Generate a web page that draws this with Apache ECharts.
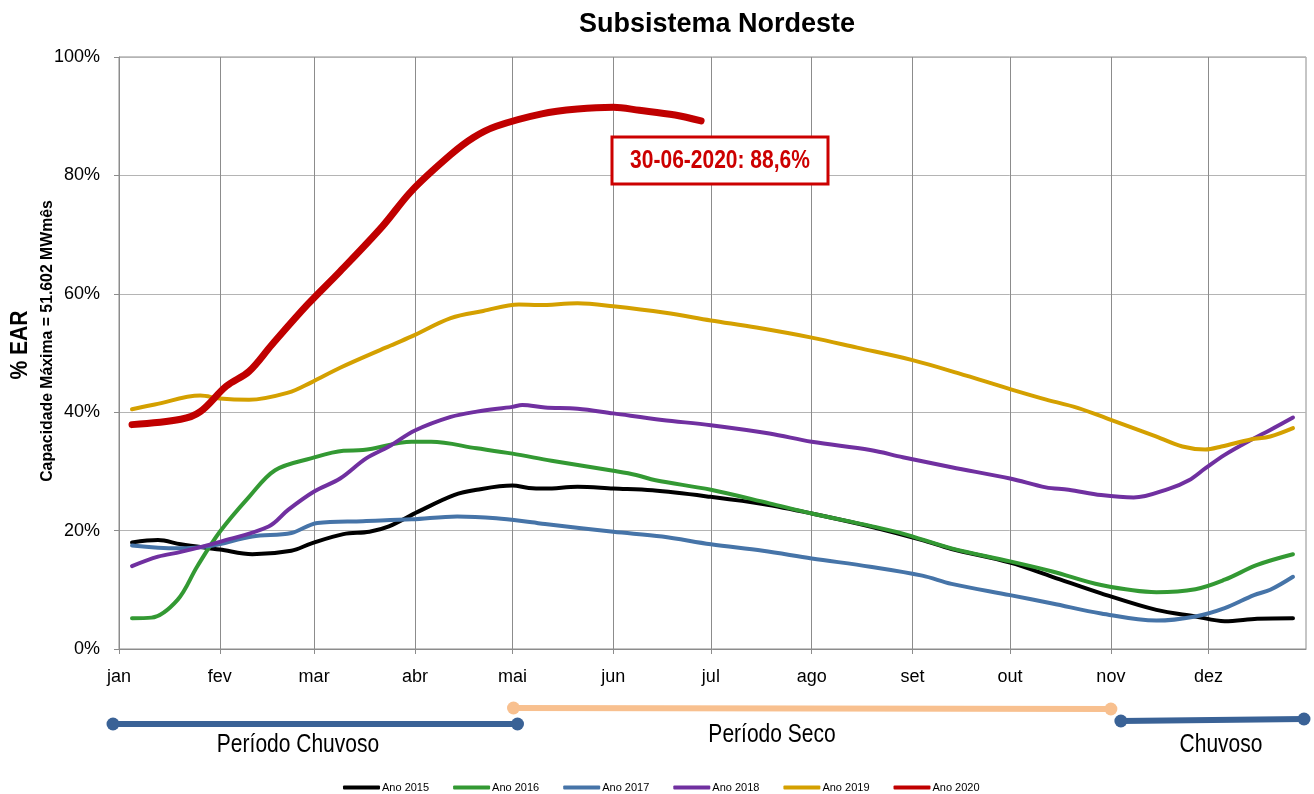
<!DOCTYPE html>
<html>
<head>
<meta charset="utf-8">
<script src="https://cdn.jsdelivr.net/npm/echarts@6/dist/echarts.min.js"></script>
<style>
  html, body { margin: 0; padding: 0; background: #fff; }
  #chart { width: 1314px; height: 794px; }
</style>
</head>
<body>
<div id="chart"></div>
<script>
// ---------- DATA ----------
const monthStarts = [0, 31, 60, 91, 121, 152, 182, 213, 244, 274, 305, 335];
const monthLabels = ['jan', 'fev', 'mar', 'abr', 'mai', 'jun', 'jul', 'ago', 'set', 'out', 'nov', 'dez'];
const yTicks = [0, 20, 40, 60, 80, 100];

const seriesNames = ['Ano 2015', 'Ano 2016', 'Ano 2017', 'Ano 2018', 'Ano 2019', 'Ano 2020'];

// [day of year (0 = 1 jan), % EAR]
const ano2015 = [[4,18.0],[12,18.4],[19,17.7],[31,16.8],[41,16.0],[53,16.6],[59,17.8],[69,19.4],[77,19.8],[83,20.7],[92,23.2],[103,26.0],[110,26.9],[121,27.6],[126,27.2],[131,27.1],[141,27.4],[152,27.1],[164,26.8],[182,25.7],[198,24.5],[213,22.9],[231,20.7],[247,18.4],[256,16.9],[274,14.6],[287,12.2],[302,9.4],[319,6.6],[331,5.5],[340,4.7],[350,5.1],[361,5.2]];
const ano2016 = [[4,5.2],[10,5.3],[18,8.3],[24,13.9],[31,19.8],[40,25.7],[48,30.2],[59,32.2],[69,33.5],[75,33.6],[90,35.0],[96,35.0],[110,33.9],[121,33.0],[133,31.8],[152,30.1],[159,29.4],[165,28.5],[182,26.9],[200,24.6],[213,22.9],[231,20.8],[241,19.5],[256,17.0],[274,14.8],[287,13.1],[302,10.8],[319,9.6],[331,10.1],[340,11.7],[350,14.2],[361,16.0]];
const ano2017 = [[4,17.5],[18,17.0],[28,17.4],[41,19.0],[53,19.6],[61,21.3],[75,21.6],[90,21.9],[104,22.4],[116,22.1],[127,21.4],[131,21.1],[152,19.8],[167,19.0],[182,17.7],[198,16.6],[213,15.3],[231,13.9],[247,12.4],[256,11.0],[274,9.1],[287,7.7],[302,6.0],[319,4.8],[331,5.5],[340,6.9],[349,9.1],[354,10.0],[361,12.2]];
const ano2018 = [[4,14.0],[12,15.6],[19,16.4],[31,18.1],[46,20.7],[52,23.5],[60,26.6],[68,28.8],[76,32.2],[83,34.2],[91,36.9],[102,39.2],[110,40.1],[121,40.9],[124,41.2],[131,40.8],[141,40.6],[152,39.8],[167,38.7],[182,37.8],[200,36.4],[213,35.0],[231,33.6],[241,32.4],[256,30.7],[274,28.8],[285,27.3],[292,26.9],[302,26.0],[312,25.6],[323,27.1],[329,28.5],[334,30.5],[340,32.8],[348,35.3],[354,37.0],[361,39.1]];
const ano2019 = [[4,40.5],[11,41.3],[25,42.8],[31,42.3],[40,42.1],[52,43.3],[59,45.0],[68,47.5],[82,50.9],[90,52.8],[102,55.9],[112,57.1],[123,58.2],[129,58.1],[141,58.4],[152,57.9],[168,56.8],[182,55.5],[196,54.3],[213,52.6],[227,50.9],[244,48.8],[258,46.6],[274,43.9],[284,42.3],[295,40.7],[305,38.7],[318,36.1],[327,34.2],[334,33.7],[339,34.2],[348,35.4],[354,35.9],[361,37.3]];
const ano2020 = [[4,37.9],[19,38.8],[25,40.1],[33,44.4],[40,46.9],[47,51.4],[58,58.2],[68,63.8],[81,71.4],[90,77.4],[102,83.5],[109,86.4],[116,88.3],[130,90.4],[141,91.2],[152,91.5],[160,91.0],[171,90.2],[179,89.2]];

const annotationText = '30-06-2020: 88,6%';
const periodNames = ['Período Chuvoso', 'Período Seco', 'Chuvoso'];
const periodStart = [0, 121, 305];
const periodEnd = [121, 305, 365];

// ---------- STYLE ----------
const FONT = "'Liberation Sans', Arial, sans-serif";
const NARROW = 0.84;
const colors = ['#000000', '#339933', '#4674A8', '#7030A0', '#D4A000', '#C00000'];
const widths = [4, 4, 4, 4, 4, 7];
const allData = [ano2015, ano2016, ano2017, ano2018, ano2019, ano2020];

const days = [];
for (let i = 0; i < 366; i++) days.push(String(i));
const isMonthStart = (i) => monthStarts.indexOf(i) >= 0;

const chart = echarts.init(document.getElementById('chart'), null, { renderer: 'canvas' });

const option = {
  animation: false,
  backgroundColor: '#fff',
  title: {
    text: 'Subsistema Nordeste',
    left: 712, textAlign: 'center', top: 6,
    textStyle: { fontFamily: FONT, fontSize: 27, fontWeight: 'bold', color: '#000' }
  },
  grid: {
    left: 119, right: 8, top: 57, bottom: 145,
    show: true, borderColor: '#8c8c8c', borderWidth: 1, backgroundColor: 'transparent'
  },
  legend: {
    data: seriesNames,
    left: 338, top: 777,
    icon: 'roundRect', itemWidth: 37, itemHeight: 4, itemGap: 24,
    textStyle: { fontFamily: FONT, fontSize: 11, color: '#000', padding: [0, 0, 0, -3] }
  },
  xAxis: {
    type: 'category', data: days, boundaryGap: false,
    axisLine: { show: true, lineStyle: { color: '#8c8c8c', width: 1 } },
    axisTick: { show: true, interval: (i) => isMonthStart(i), length: 5, lineStyle: { color: '#8c8c8c' } },
    axisLabel: {
      interval: (i) => isMonthStart(i),
      formatter: (v, i) => monthLabels[monthStarts.indexOf(Number(v))] || '',
      fontFamily: FONT, fontSize: 18, color: '#000', margin: 19
    },
    splitLine: { show: true, interval: (i) => isMonthStart(i), lineStyle: { color: '#8c8c8c', width: 1 } }
  },
  yAxis: {
    type: 'value', min: 0, max: 100, interval: 20,
    axisLine: { show: true, lineStyle: { color: '#8c8c8c', width: 1 } },
    axisTick: { show: true, length: 5, lineStyle: { color: '#8c8c8c' } },
    axisLabel: {
      formatter: (v) => yTicks.indexOf(v) >= 0 ? v + '%' : '',
      fontFamily: FONT, fontSize: 18, color: '#000', margin: 19
    },
    splitLine: { show: true, lineStyle: { color: '#b4b4b4', width: 1 } }
  },
  series: seriesNames.map((name, k) => ({
    name: name, type: 'line', data: allData[k],
    smooth: 0.35, showSymbol: false, symbol: 'none',
    color: colors[k],
    lineStyle: { color: colors[k], width: widths[k], cap: 'round', join: 'round' },
    z: 2 + k
  }))
};
chart.setOption(option);

// ---------- ANNOTATIONS ----------
const px = (d) => chart.convertToPixel({ xAxisIndex: 0 }, d);
const periodColors = ['#3A6296', '#F8C08F', '#3A6296'];
const periodY = [[724, 724], [708, 709], [721, 719]];
const periodNudge = [[-6, 5], [1, 0], [10, -2]];
const labelPos = [[298, 745], [772, 735], [1221, 745]];

const graphics = [];
periodNames.forEach((name, k) => {
  const x1 = px(periodStart[k]) + periodNudge[k][0];
  const x2 = px(periodEnd[k]) + periodNudge[k][1];
  graphics.push({
    type: 'line', shape: { x1: x1, y1: periodY[k][0], x2: x2, y2: periodY[k][1] },
    style: { stroke: periodColors[k], lineWidth: 6 }, z: 10
  });
  graphics.push({ type: 'circle', shape: { cx: x1, cy: periodY[k][0], r: 6.5 }, style: { fill: periodColors[k] }, z: 11 });
  graphics.push({ type: 'circle', shape: { cx: x2, cy: periodY[k][1], r: 6.5 }, style: { fill: periodColors[k] }, z: 11 });
  graphics.push({
    type: 'text', x: labelPos[k][0], y: labelPos[k][1], scaleX: NARROW,
    style: { text: name, fill: '#000', font: '25px ' + FONT, textAlign: 'center', textVerticalAlign: 'middle' }, z: 12
  });
});

// annotation box
graphics.push({
  type: 'rect', shape: { x: 612, y: 137, width: 216, height: 47 },
  style: { fill: '#fff', stroke: '#CC0000', lineWidth: 3 }, z: 20
});
graphics.push({
  type: 'text', x: 720, y: 161, scaleX: NARROW,
  style: { text: annotationText, fill: '#CC0000', font: 'bold 25px ' + FONT, textAlign: 'center', textVerticalAlign: 'middle' }, z: 21
});

// y axis titles
graphics.push({
  type: 'text', x: 20, y: 345, rotation: Math.PI / 2, scaleX: 0.88,
  style: { text: '% EAR', fill: '#000', font: 'bold 24px ' + FONT, textAlign: 'center', textVerticalAlign: 'middle' }, z: 21
});
graphics.push({
  type: 'text', x: 47, y: 341, rotation: Math.PI / 2, scaleX: 0.93,
  style: { text: 'Capacidade Máxima = 51.602 MWmês', fill: '#000', font: 'bold 17px ' + FONT, textAlign: 'center', textVerticalAlign: 'middle' }, z: 21
});

chart.setOption({ graphic: graphics });
</script>
</body>
</html>
